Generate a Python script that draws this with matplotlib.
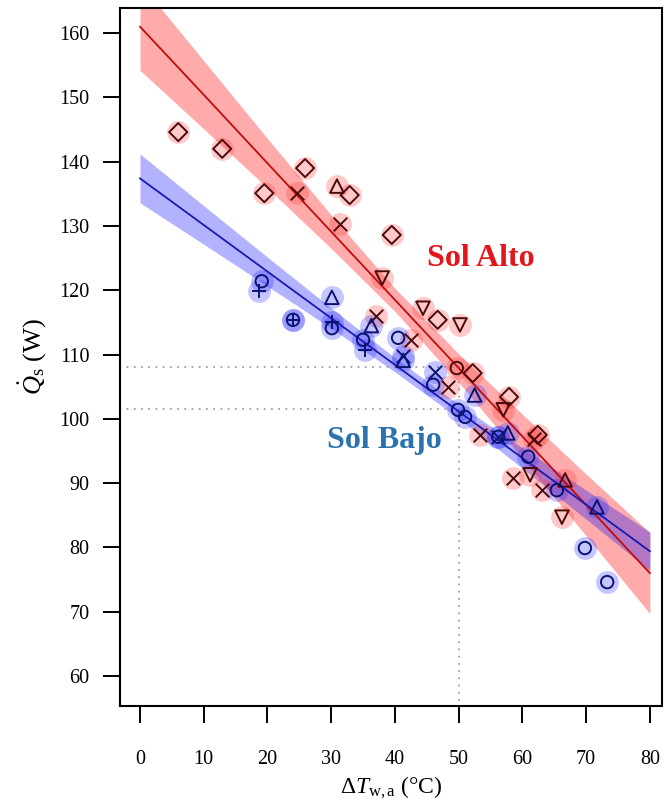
import numpy as np
import matplotlib
matplotlib.use("Agg")
import matplotlib.pyplot as plt

plt.rcParams["font.family"] = ["Liberation Serif", "DejaVu Serif"]
plt.rcParams["mathtext.fontset"] = "custom"
plt.rcParams["mathtext.rm"] = "Liberation Serif"
plt.rcParams["mathtext.it"] = "Liberation Serif:italic"

# --- Sol Alto (high sun) observations: x, y, marker
alto_x = [6.0, 12.9, 19.5, 24.6, 25.9, 30.9, 32.9, 31.4, 39.5, 38.0, 37.0,
          42.5, 44.4, 46.7, 50.2, 49.7, 52.2, 57.9, 48.3, 57.0, 62.4, 53.3,
          58.5, 63.1, 66.2, 61.2, 66.7, 61.8]
alto_y = [144.6, 142.0, 135.1, 135.1, 139.0, 136.2, 134.8, 130.3, 128.6, 121.9, 116.0,
          112.3, 117.2, 115.4, 114.6, 107.9, 107.1, 103.4, 104.9, 101.4, 97.5, 97.5,
          90.8, 89.0, 84.7, 91.3, 90.5, 96.8]
alto_m = ["D", "D", "D", "x", "D", "^", "D", "x", "D", "v", "x",
          "x", "v", "D", "v", "o", "D", "D", "x", "v", "D", "x",
          "x", "x", "v", "v", "^", "x"]

# --- Sol Bajo (low sun) observations
bajo_x = [19.1, 18.7, 24.0, 24.0, 30.1, 30.1, 30.1, 35.0, 35.3, 36.3, 40.5, 41.3, 41.3,
          46.3, 46.0, 52.5, 49.9, 51.0, 56.2, 56.2, 57.7, 60.9, 65.4, 69.8, 73.3, 71.7]
bajo_y = [121.4, 119.9, 115.4, 115.4, 118.9, 114.1, 115.0, 112.3, 110.7, 114.5, 112.6, 109.1, 109.8,
          107.3, 105.3, 103.7, 101.4, 100.3, 97.2, 97.2, 97.8, 94.1, 88.9, 79.9, 74.6, 86.3]
bajo_m = ["o", "+", "o", "+", "^", "o", "+", "o", "+", "^", "o", "^", "x",
          "x", "o", "^", "o", "o", "o", "x", "^", "o", "o", "o", "o", "^"]

# --- fitted lines with confidence bands
fit_x = [0, 10, 20, 30, 40, 50, 60, 70, 80]
alto_fit = [161.0, 150.4, 139.75, 129.1, 118.5, 107.9, 97.25, 86.6, 76.0]
alto_lo = [154.2, 145.1, 135.9, 126.5, 116.7, 105.7, 93.8, 81.8, 69.7]
alto_hi = [167.8, 155.7, 143.6, 131.7, 120.3, 110.1, 100.7, 91.4, 82.3]
bajo_fit = [137.4, 130.15, 122.9, 115.65, 108.4, 101.15, 93.9, 86.65, 79.4]
bajo_lo = [133.6, 127.15, 120.65, 114.07, 107.3, 100.07, 92.3, 84.4, 76.4]
bajo_hi = [141.2, 133.15, 125.15, 117.23, 109.5, 102.23, 95.5, 88.9, 82.4]

# reference readings at dT = 50
ref_x = 50
ref_alto = 108.0
ref_bajo = 101.5

xticks = [0, 10, 20, 30, 40, 50, 60, 70, 80]
yticks = [60, 70, 80, 90, 100, 110, 120, 130, 140, 150, 160]

fig = plt.figure(figsize=(6.64, 8.01), dpi=100)
ax = fig.add_axes([0.1807, 0.1186, 0.8163, 0.8714])

ax.fill_between(fit_x, alto_lo, alto_hi, color="#ff0000", alpha=0.33, lw=0, zorder=1)
ax.fill_between(fit_x, bajo_lo, bajo_hi, color="#0000ff", alpha=0.30, lw=0, zorder=1)

# dotted guide lines
ax.plot([-10, ref_x], [ref_alto, ref_alto], ls=(0, (1, 3)), c="#a0a0a0", lw=1.3, zorder=2)
ax.plot([-10, ref_x], [ref_bajo, ref_bajo], ls=(0, (1, 3)), c="#a0a0a0", lw=1.3, zorder=2)
ax.plot([ref_x, ref_x], [0, ref_alto], ls=(0, (1, 3)), c="#a0a0a0", lw=1.3, zorder=2)

# halos
ax.scatter(alto_x, alto_y, s=270, c="#ff3030", alpha=0.26, lw=0, zorder=3)
ax.scatter(bajo_x, bajo_y, s=270, c="#3030ff", alpha=0.28, lw=0, zorder=3)

ax.plot(fit_x, alto_fit, c="#c00c0c", lw=1.3, zorder=4)
ax.plot(fit_x, bajo_fit, c="#1a1ab0", lw=1.3, zorder=4)

sizes = {"D": 85, "x": 95, "^": 95, "v": 95, "o": 80, "+": 115}
for xs, ys, ms, col in [(alto_x, alto_y, alto_m, "#4a0a0a"), (bajo_x, bajo_y, bajo_m, "#0a1470")]:
    for xv, yv, m in zip(xs, ys, ms):
        if m in ("x", "+"):
            ax.scatter(xv, yv, s=sizes[m], marker=m, c=col, lw=1.4, zorder=5)
        else:
            ax.scatter(xv, yv, s=sizes[m], marker=m, facecolors="none",
                       edgecolors=col, lw=1.4, zorder=5)

ax.text(53.5, 125.0, "Sol Alto", color="#e3161d", fontsize=23, fontweight="bold",
        ha="center", va="center", zorder=6)
ax.text(38.4, 96.7, "Sol Bajo", color="#2a72b0", fontsize=23, fontweight="bold",
        ha="center", va="center", zorder=6)

ax.set_xlim(-3.14, 81.9)
ax.set_ylim(55.33, 163.9)
ax.set_xticks(xticks)
ax.set_yticks(yticks)
ax.tick_params(axis="both", direction="out", length=12, width=1.4, labelsize=14.5)
ax.tick_params(axis="x", pad=20)
ax.tick_params(axis="y", pad=10)
for s in ax.spines.values():
    s.set_linewidth(1.5)

ax.set_xlabel(r"$\Delta T_{\mathrm{w,a}}$ (°C)", fontsize=17, labelpad=4)
ax.set_ylabel(r"$\dot{Q}_{\mathrm{s}}$ (W)", fontsize=19, labelpad=8)

fig.savefig("out.png", dpi=100)
